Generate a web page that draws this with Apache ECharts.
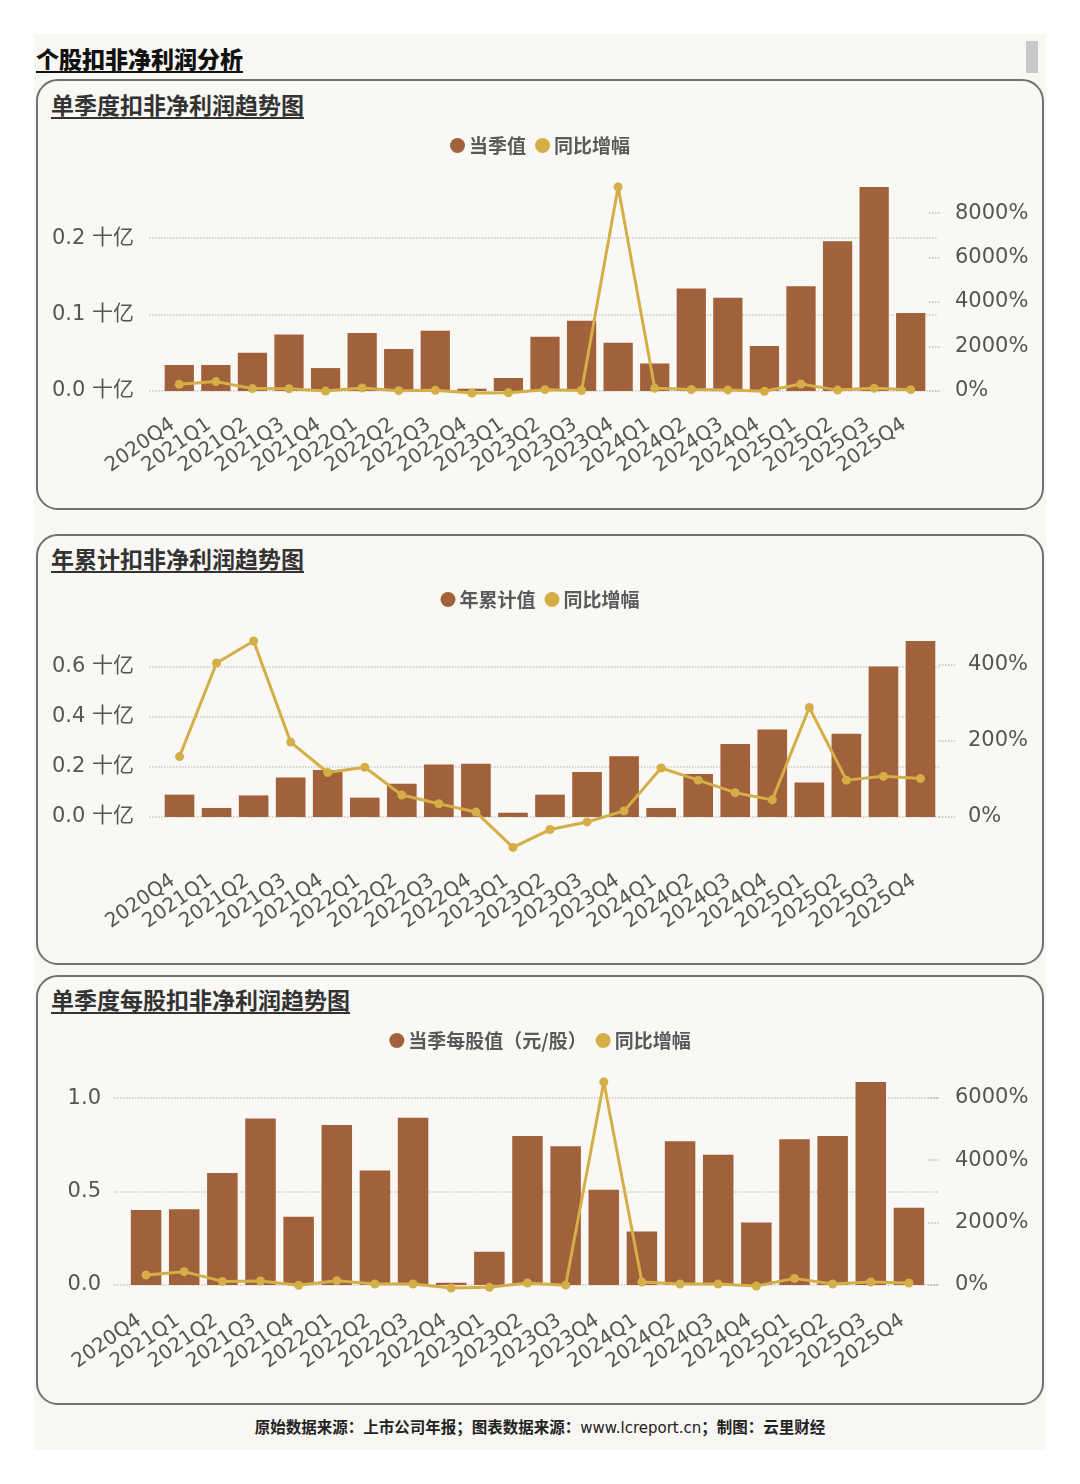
<!DOCTYPE html>
<html>
<head>
<meta charset="utf-8">
<script src="https://cdn.jsdelivr.net/npm/echarts@6/dist/echarts.min.js"></script>
<style>
  body { margin: 0; width: 1080px; height: 1484px; background: #fff; position: relative;
         font-family: "DejaVu Sans", "Noto Sans CJK SC", sans-serif; overflow: hidden; }
  .panel { position: absolute; left: 34px; top: 34px; width: 1012px; height: 1416px; background: #f9f7f4; }
  .scroll { position: absolute; left: 1026px; top: 41px; width: 12px; height: 32px; background: #c9c9c9; }
  .card { position: absolute; left: 36px; width: 1008px; box-sizing: border-box;
          border: 2px solid #707070; border-radius: 22px; background: #faf8f5; }
  .title { position: absolute; font-family: "Noto Sans CJK SC", sans-serif; text-decoration: underline;
           text-underline-offset: 3px; white-space: nowrap; }
  .main-title { left: 36px; top: 41px; font-size: 23px; font-weight: 900; color: #111; }
  .card-title { left: 51px; font-size: 23px; font-weight: 700; color: #333; }
  .footer { position: absolute; left: 0; width: 1080px; top: 1415px; text-align: center;
            font-family: "Noto Sans CJK SC", sans-serif; font-size: 15.5px; font-weight: 700; color: #222; }
  .footer span { font-family: "DejaVu Sans", sans-serif; font-weight: 400; font-size: 15px; }
  #main { position: absolute; left: 0; top: 0; width: 1080px; height: 1484px; }
</style>
</head>
<body>
<div class="panel"></div>
<div class="scroll"></div>
<div class="title main-title">个股扣非净利润分析</div>
<div class="card" style="top:79px;height:431px"></div>
<div class="card" style="top:534px;height:431px"></div>
<div class="card" style="top:975px;height:430px"></div>
<div class="title card-title" style="top:87px">单季度扣非净利润趋势图</div>
<div class="title card-title" style="top:541px">年累计扣非净利润趋势图</div>
<div class="title card-title" style="top:982px">单季度每股扣非净利润趋势图</div>
<div class="footer">原始数据来源：上市公司年报；图表数据来源：<span>www.lcreport.cn</span>；制图：云里财经</div>
<div id="main"></div>
<script>
var quarters = ['2020Q4', '2021Q1', '2021Q2', '2021Q3', '2021Q4', '2022Q1', '2022Q2', '2022Q3', '2022Q4',
    '2023Q1', '2023Q2', '2023Q3', '2023Q4', '2024Q1', '2024Q2', '2024Q3', '2024Q4',
    '2025Q1', '2025Q2', '2025Q3', '2025Q4'];

// 单季度扣非净利润（十亿）与同比（%）
var quarterProfit = [0.034, 0.034, 0.050, 0.074, 0.030, 0.076, 0.055, 0.079, 0.003, 0.017, 0.071,
    0.092, 0.063, 0.036, 0.134, 0.122, 0.059, 0.137, 0.196, 0.267, 0.102];
var quarterProfitYoy = [302, 424, 108, 100, -5, 135, 15, 30, -90, -80, 60,
    25, 9173, 120, 65, 50, -10, 316, 40, 120, 60];

// 年累计扣非净利润（十亿）与同比（%）
var ytdProfit = [0.089, 0.036, 0.086, 0.157, 0.187, 0.077, 0.132, 0.209, 0.212, 0.017, 0.089,
    0.179, 0.242, 0.036, 0.171, 0.291, 0.349, 0.137, 0.332, 0.599, 0.701];
var ytdProfitYoy = [159, 405, 463, 197, 117, 131, 58, 35, 13, -80, -33,
    -13, 16, 129, 97, 64, 45, 288, 97, 107, 101];

// 单季度每股扣非净利润（元/股）与同比（%）
var quarterEps = [0.401, 0.406, 0.600, 0.891, 0.365, 0.857, 0.613, 0.895, 0.012, 0.178, 0.798,
    0.743, 0.510, 0.287, 0.770, 0.698, 0.335, 0.781, 0.798, 1.087, 0.413];
var quarterEpsYoy = [321, 427, 116, 128, -10, 138, 32, 32, -96, -75, 64,
    -5, 6500, 96, 32, 32, -32, 212, 32, 96, 64];

// 刻度
var profitTicks = [0, 0.1, 0.2];
var profitYoyTicks = [0, 2000, 4000, 6000, 8000];
var ytdTicks = [0, 0.2, 0.4, 0.6];
var ytdYoyTicks = [0, 200, 400];
var epsTicks = [0, 0.5, 1.0];
var epsYoyTicks = [0, 2000, 4000, 6000];

var BAR = '#a1613a';
var LINE = '#d4ae47';
var TXT = '#555';
var FONT = '"DejaVu Sans", "Noto Sans CJK SC", sans-serif';

function maxOf(arr) { return Math.max.apply(null, arr); }

// 数据所在坐标轴（只显示刻度标签）
function leftAxis(grid, ticks, unit, margin) {
    return {
        type: 'value', gridIndex: grid, min: 0, max: 'dataMax',
        axisLine: { show: false }, axisTick: { show: false }, splitLine: { show: false },
        axisLabel: {
            customValues: ticks, margin: margin, color: TXT, fontSize: 21, fontFamily: FONT,
            formatter: function (v) { return v.toFixed(1) + unit; }
        }
    };
}

function rightAxis(grid, ticks, margin, tickLen) {
    return {
        type: 'value', gridIndex: grid, position: 'right', min: 0, max: 'dataMax',
        axisLine: { show: false },
        axisTick: { show: true, customValues: ticks, length: tickLen,
            lineStyle: { type: 'dotted', color: '#bbb', width: 1.5 } },
        axisLabel: { customValues: ticks, margin: margin, color: TXT, fontSize: 21, fontFamily: FONT,
            formatter: function (v) { return v + '%'; } },
        splitLine: { show: false }
    };
}

// 稍宽的背景网格，只画虚线分隔线
function frameAxis(grid, ticks, data) {
    return {
        type: 'value', gridIndex: grid, min: 0, max: maxOf(data), interval: ticks[1] - ticks[0],
        axisLine: { show: false }, axisTick: { show: false }, axisLabel: { show: false },
        splitLine: { show: true, showMaxLine: false,
            lineStyle: { type: 'dotted', color: '#c8c8c8', width: 1.5 } }
    };
}

function xAxis(grid, margin) {
    return {
        type: 'category', gridIndex: grid, data: quarters,
        axisLine: { show: false }, axisTick: { show: false },
        axisLabel: { interval: 0, rotate: 35, margin: margin, padding: [0, 8, 0, 0],
            color: TXT, fontSize: 20, fontFamily: FONT }
    };
}

function frameX(grid) {
    return { type: 'category', gridIndex: grid, data: quarters, show: false };
}

function legend(top, names) {
    return {
        top: top, left: 'center', data: names, icon: 'circle',
        itemWidth: 15, itemHeight: 15, itemGap: 9, itemStyle: { borderWidth: 0 },
        textStyle: { color: '#5a5a5a', fontSize: 19, fontWeight: 'bold',
            fontFamily: '"Noto Sans CJK SC", sans-serif', padding: [0, 0, 0, -1] }
    };
}

function barSeries(name, idx, data) {
    return { name: name, type: 'bar', xAxisIndex: idx, yAxisIndex: idx * 2, data: data,
        barWidth: '80%', itemStyle: { color: BAR } };
}

function lineSeries(idx, data) {
    return { name: '同比增幅', type: 'line', xAxisIndex: idx, yAxisIndex: idx * 2 + 1, data: data,
        clip: false, symbol: 'circle', symbolSize: 9, z: 5,
        lineStyle: { color: LINE, width: 3 }, itemStyle: { color: LINE } };
}

window.addEventListener('load', function () {
    var chart = echarts.init(document.getElementById('main'));
    var option = {
        backgroundColor: 'transparent',
        animation: false,
        legend: [
            legend(131, ['当季值', '同比增幅']),
            legend(585, ['年累计值', '同比增幅']),
            legend(1026, ['当季每股值（元/股）', '同比增幅'])
        ],
        grid: [
            { left: 161, right: 151, top: 187, bottom: 1093 },
            { left: 161, right: 141, top: 641, bottom: 667 },
            { left: 127, right: 152, top: 1082, bottom: 199 },
            { left: 149, right: 142, top: 187, bottom: 1093 },
            { left: 149, right: 140, top: 641, bottom: 667 },
            { left: 114, right: 142, top: 1082, bottom: 199 }
        ],
        xAxis: [xAxis(0, 27), xAxis(1, 57), xAxis(2, 29), frameX(3), frameX(4), frameX(5)],
        yAxis: [
            leftAxis(0, profitTicks, ' 十亿', 27), rightAxis(0, profitYoyTicks, 26, 12),
            leftAxis(1, ytdTicks, ' 十亿', 27), rightAxis(1, ytdYoyTicks, 29, 16),
            leftAxis(2, epsTicks, '', 26), rightAxis(2, epsYoyTicks, 27, 12),
            frameAxis(3, profitTicks, quarterProfit),
            frameAxis(4, ytdTicks, ytdProfit),
            frameAxis(5, epsTicks, quarterEps)
        ],
        series: [
            barSeries('当季值', 0, quarterProfit), lineSeries(0, quarterProfitYoy),
            barSeries('年累计值', 1, ytdProfit), lineSeries(1, ytdProfitYoy),
            barSeries('当季每股值（元/股）', 2, quarterEps), lineSeries(2, quarterEpsYoy)
        ]
    };
    chart.setOption(option);
});
</script>
</body>
</html>
